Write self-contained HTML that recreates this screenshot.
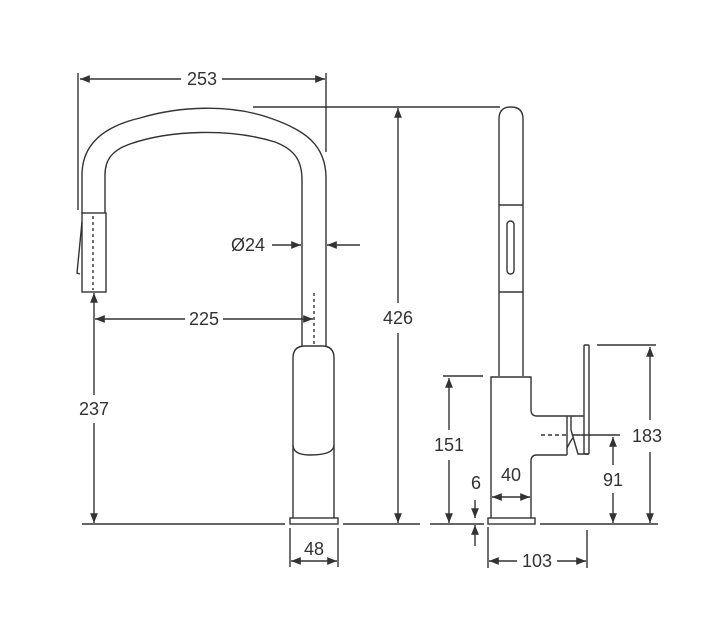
<!DOCTYPE html>
<html><head><style>
html,body{margin:0;padding:0;background:#fff;}
svg{display:block;}
text{font-family:"Liberation Sans",sans-serif;font-size:18px;fill:#333;}
</style></head><body>
<svg width="702" height="640" viewBox="0 0 702 640" xmlns="http://www.w3.org/2000/svg">
<defs>
<marker id="a" viewBox="0 0 10 10" refX="10" refY="5" markerWidth="7" markerHeight="7" orient="auto-start-reverse"><path d="M0,1 L10,5 L0,9z" fill="#333"/></marker>
</defs>
<g stroke="#333" stroke-width="1.4" fill="none">
<path d="M82,213 L82,175 C82,140 110,125 140,118 C180,106 230,104 270,118 C305,130 326,145 326,178 L326,346"/>
<path d="M105,213 L105,175 C105,160 112,150 130,144 C170,130 230,128 275,142 C296,150 302,162 302,180 L302,346"/>
<rect x="82" y="213" width="24" height="79"/>
<line x1="93" y1="216" x2="93" y2="290" stroke-dasharray="3,3"/>
<path d="M82,222 L77,273 L80,274"/>
<line x1="314" y1="293" x2="314" y2="345" stroke-dasharray="3,3"/>
<path d="M293,518 L293,358 Q293,346 305,346 L322,346 Q334,346 334,358 L334,518"/>
<path d="M293,445 Q293,455 310,455 Q334,455 334,445"/>
<rect x="290" y="518" width="48" height="6"/>
<line x1="82" y1="524" x2="285" y2="524"/>
<line x1="343" y1="524" x2="420" y2="524"/>
<line x1="430" y1="524" x2="484" y2="524"/>
<line x1="540" y1="524" x2="658" y2="524"/>
<line x1="78" y1="73" x2="78" y2="210"/>
<line x1="326" y1="73" x2="326" y2="152"/>
<line x1="80" y1="79" x2="181" y2="79" marker-start="url(#a)"/>
<line x1="222" y1="79" x2="325" y2="79" marker-end="url(#a)"/>
<line x1="253" y1="107" x2="500" y2="107"/>
<line x1="272" y1="245" x2="301" y2="245" marker-end="url(#a)"/>
<line x1="360" y1="245" x2="327" y2="245" marker-end="url(#a)"/>
<line x1="95" y1="319" x2="185" y2="319" marker-start="url(#a)"/>
<line x1="223" y1="319" x2="313" y2="319" marker-end="url(#a)"/>
<line x1="94" y1="293" x2="94" y2="395" marker-start="url(#a)"/>
<line x1="94" y1="423" x2="94" y2="523" marker-end="url(#a)"/>
<line x1="398" y1="108" x2="398" y2="303" marker-start="url(#a)"/>
<line x1="398" y1="333" x2="398" y2="523" marker-end="url(#a)"/>
<line x1="290" y1="528" x2="290" y2="567"/>
<line x1="338" y1="528" x2="338" y2="567"/>
<line x1="291" y1="561" x2="337" y2="561" marker-start="url(#a)" marker-end="url(#a)"/>

<path d="M499,376 L499,119 Q499,107 511,107 Q523,107 523,119 L523,376"/>
<line x1="499" y1="205" x2="523" y2="205"/>
<line x1="499" y1="292" x2="523" y2="292"/>
<rect x="507" y="221" width="7" height="53" rx="3.5"/>
<path d="M491,518 L491,377 L531,377 L531,410 Q531,416 537,416 L584,416"/>
<rect x="584" y="345" width="5" height="109" rx="1"/>
<path d="M567,416 L567,455"/>
<line x1="571" y1="416" x2="571" y2="430"/>
<path d="M571,430 L578,454 L589,454"/>
<path d="M567,448 Q571,440 573,438"/>
<path d="M567,455 L537,455 Q531,455 531,461 L531,518"/>
<rect x="488" y="518" width="47" height="6"/>
<line x1="541" y1="435" x2="566" y2="435" stroke-dasharray="4,3"/>
<line x1="572" y1="435" x2="620" y2="435"/>
<line x1="443" y1="376" x2="483" y2="376"/>
<line x1="449" y1="378" x2="449" y2="430" marker-start="url(#a)"/>
<line x1="449" y1="460" x2="449" y2="523" marker-end="url(#a)"/>
<line x1="492" y1="497" x2="530" y2="497" marker-start="url(#a)" marker-end="url(#a)"/>
<line x1="475" y1="500" x2="475" y2="518" marker-end="url(#a)"/>
<line x1="475" y1="546" x2="475" y2="525" marker-end="url(#a)"/>
<line x1="613" y1="437" x2="613" y2="465" marker-start="url(#a)"/>
<line x1="613" y1="493" x2="613" y2="523" marker-end="url(#a)"/>
<line x1="597" y1="345" x2="656" y2="345"/>
<line x1="650" y1="347" x2="650" y2="420" marker-start="url(#a)"/>
<line x1="650" y1="452" x2="650" y2="523" marker-end="url(#a)"/>
<line x1="488" y1="527" x2="488" y2="568"/>
<line x1="587" y1="530" x2="587" y2="568"/>
<line x1="489" y1="561" x2="517" y2="561" marker-start="url(#a)"/>
<line x1="557" y1="561" x2="586" y2="561" marker-end="url(#a)"/>
</g>
<text x="202" y="85" text-anchor="middle">253</text>
<text x="248" y="251" text-anchor="middle">Ø24</text>
<text x="204" y="325" text-anchor="middle">225</text>
<text x="94" y="415" text-anchor="middle">237</text>
<text x="398" y="324" text-anchor="middle">426</text>
<text x="314" y="555" text-anchor="middle">48</text>
<text x="449" y="451" text-anchor="middle">151</text>
<text x="511" y="481" text-anchor="middle">40</text>
<text x="476" y="489" text-anchor="middle">6</text>
<text x="613" y="486" text-anchor="middle">91</text>
<text x="647" y="442" text-anchor="middle">183</text>
<text x="537" y="567" text-anchor="middle">103</text>
</svg>
</body></html>
